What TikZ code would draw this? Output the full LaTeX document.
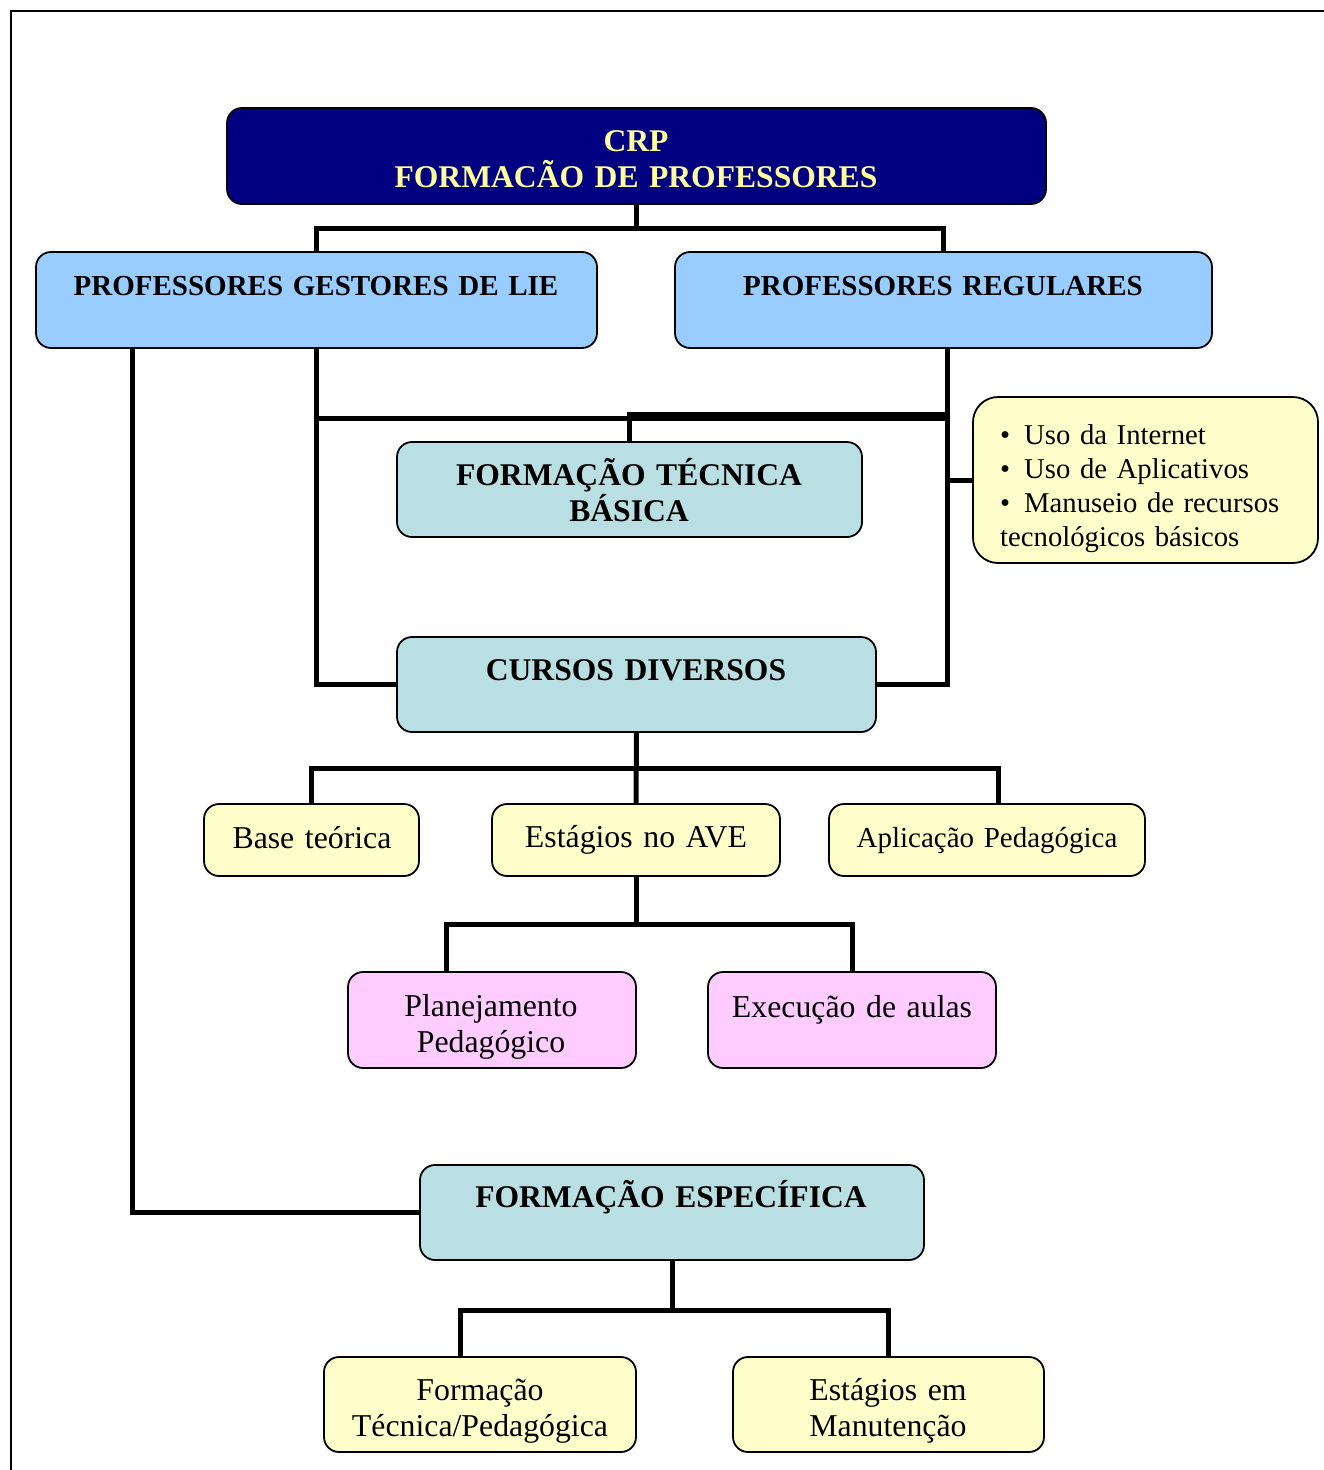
\documentclass[tikz,border=0pt]{standalone}
\usepackage{fontspec}
\setmainfont{Liberation Serif}
\definecolor{navybox}{HTML}{000080}
\definecolor{titleyel}{HTML}{FFFF99}
\definecolor{lblue}{HTML}{99CCFF}
\definecolor{lteal}{HTML}{B9DFE3}
\definecolor{lyel}{HTML}{FFFFCC}
\definecolor{lpink}{HTML}{FFCCFF}
\begin{document}
\begin{tikzpicture}[x=1pt,y=-1pt,
  box/.style={draw=black, line width=1.8pt, rounded corners=15pt, inner sep=0pt},
  conn/.style={line width=5pt, line join=miter},
  bt/.style={font=\fontsize{31.6}{36.5}\selectfont\bfseries, anchor=base, text width=#1, align=center, inner sep=0pt},
  bt/.default=600pt,
  bts/.style={font=\fontsize{29}{36}\selectfont\bfseries, anchor=base, text width=#1, align=center, inner sep=0pt},
  bts/.default=600pt,
  nt/.style={font=\fontsize{31.8}{36}\selectfont, anchor=base, text width=#1, align=center, inner sep=0pt},
  nt/.default=400pt]
\useasboundingbox (0,0) rectangle (1324,1470);
\draw[line width=2pt] (11,1470) -- (11,11) -- (1324,11);

% boxes
\node[box, fill=navybox, minimum width=819pt, minimum height=96pt] (crp) at (636.5,156) {};
\node[box, fill=lblue, minimum width=561pt, minimum height=96pt] (pgl) at (316.5,300) {};
\node[box, fill=lblue, minimum width=537pt, minimum height=96pt] (pr) at (943.5,300) {};
\node[box, fill=lteal, minimum width=465pt, minimum height=95pt] (ftb) at (629.5,489.5) {};
\node[box, fill=lyel, minimum width=345pt, minimum height=166pt, rounded corners=25pt] (bul) at (1145.5,480) {};
\node[box, fill=lteal, minimum width=479pt, minimum height=95pt] (cd) at (636.5,684.5) {};
\node[box, fill=lyel, minimum width=215pt, minimum height=72pt] (base) at (311.5,840) {};
\node[box, fill=lyel, minimum width=288pt, minimum height=72pt] (ave) at (636,840) {};
\node[box, fill=lyel, minimum width=316pt, minimum height=72pt] (apl) at (987,840) {};
\node[box, fill=lpink, minimum width=288pt, minimum height=96pt] (plan) at (492,1020) {};
\node[box, fill=lpink, minimum width=288pt, minimum height=96pt] (exe) at (852,1020) {};
\node[box, fill=lteal, minimum width=504pt, minimum height=95pt] (fe) at (672,1212.5) {};
\node[box, fill=lyel, minimum width=312pt, minimum height=95pt] (ftp) at (480,1404.5) {};
\node[box, fill=lyel, minimum width=311pt, minimum height=95pt] (em) at (888.5,1404.5) {};

% texts
\node[bt, text=titleyel] (crpt) at (636,151) {CRP\\FORMAC\~AO DE PROFESSORES};
\node[bts] (pglt) at (316,295) {PROFESSORES GESTORES DE LIE};
\node[bts] (prt) at (943,295) {PROFESSORES REGULARES};
\node[bt] (ftbt) at (629,485) {FORMAÇÃO TÉCNICA\\BÁSICA};
\node[font=\fontsize{28.7}{34.3}\selectfont, anchor=base west, text width=330pt, align=left, inner sep=0pt] (bult) at (1000,444)
  {\textbullet\hspace{14pt}Uso da Internet\\\textbullet\hspace{14pt}Uso de Aplicativos\\\textbullet\hspace{14pt}Manuseio de recursos\\tecnológicos básicos};
\node[bt] (cdt) at (636,680) {CURSOS DIVERSOS};
\node[nt] (baset) at (312,848) {Base teórica};
\node[nt] (avet) at (636,847) {Estágios no AVE};
\node[nt, font=\fontsize{29}{36}\selectfont] (aplt) at (987,847) {Aplicação Pedagógica};
\node[nt] (plant) at (491,1016) {Planejamento\\Pedagógico};
\node[nt] (exet) at (852,1017) {Execução de aulas};
\node[bt] (fet) at (671,1207) {FORMAÇÃO ESPECÍFICA};
\node[nt] (ftpt) at (480,1400) {Formação\\Técnica/Pedagógica};
\node[nt] (emt) at (888,1400) {Estágios em\\Manutenção};

% connectors
\coordinate (j1) at (636.5,228);
\draw[conn] (crp.south) -- (j1);
\draw[conn] (pgl.north) |- (j1) -| (pr.north);

\coordinate (h1) at (947,418);
\coordinate (h2) at (947,414);
\coordinate (prb) at (947,348);
\coordinate (pgl2) at (132,348);
\draw[conn] (pgl.south) |- (cd.west);
\draw[conn] (pgl.south |- h1) -- (h1);
\draw[conn] (ftb.north) |- (h2);
\draw[conn] (prb) |- (cd.east);
\draw[conn] (bul.west) -- (bul.west -| prb);
\draw[conn] (pgl2) |- (fe.west);

\coordinate (j2) at (636.5,768);
\coordinate (apt) at (998,804);
\draw[conn] (cd.south) -- (ave.north);
\draw[conn] (base.north) |- (j2) -| (apt);

\coordinate (j3) at (636,924);
\coordinate (plt) at (446,972);
\draw[conn] (ave.south) -- (j3);
\draw[conn] (plt) |- (j3) -| (exe.north);

\coordinate (j4) at (672,1310);
\coordinate (ftt) at (460,1357);
\draw[conn] (fe.south) -- (j4);
\draw[conn] (ftt) |- (j4) -| (em.north);
\end{tikzpicture}
\end{document}
